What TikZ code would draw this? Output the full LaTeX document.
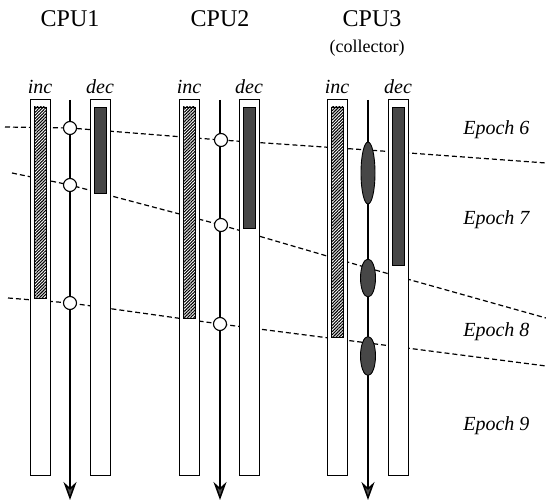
\documentclass[tikz,border=0pt]{standalone}
\usepackage{fontspec}
\setmainfont{Liberation Serif}
\usetikzlibrary{arrows.meta,positioning,patterns.meta,shapes.geometric}

\begin{document}
\begin{tikzpicture}[
        x=1pt, y=-1pt,
        title/.style={anchor=base, font=\fontsize{24}{28}\selectfont},
        sub/.style={anchor=base, font=\fontsize{18}{21}\selectfont},
        tag/.style={inner sep=0pt, font=\fontsize{20}{23}\selectfont\itshape},
        epoch/.style={anchor=base east, font=\fontsize{20}{23}\selectfont\itshape},
        frame/.style={draw, fill=white, line width=1pt, minimum width=20pt, minimum height=375pt, inner sep=0pt},
        incbar/.style={draw, line width=0.9pt, pattern={Lines[angle=45,distance=2.2pt,line width=1.1pt]}},
        decbar/.style={draw, line width=0.9pt, fill=black!72},
        boundary/.style={dash pattern=on 5pt off 3pt, line width=1.2pt},
        timeline/.style={line width=1.5pt, -{Stealth[length=18pt,width=13pt,fill=black!70]}},
        event/.style={draw, circle, fill=white, line width=1.1pt, minimum size=13pt, inner sep=0pt},
        merge/.style={draw, ellipse, fill=black!72, line width=0.9pt, inner sep=0pt}
    ]
        \useasboundingbox (0,0) rectangle (546,502);

        % Event points
        \coordinate (p11) at (70,128);
        \coordinate (p12) at (70,185);
        \coordinate (p13) at (70,303);
        \coordinate (p21) at (221,140);
        \coordinate (p22) at (221,225);
        \coordinate (p23) at (220,324);

        % Epoch boundaries
        \draw[boundary] (5,127) -- (p11) -- (p21) -- (368,150) -- (546,163);
        \draw[boundary] (12,173) -- (p12) -- (p22) -- (368,268) -- (546,318);
        \draw[boundary] (8,298) -- (p13) -- (p23) -- (368,343) -- (546,366);

        % Titles
        \node[title] (cpu1) at (70,27) {CPU1};
        \node[title] (cpu2) at (220,27) {CPU2};
        \node[title] (cpu3) at (372,27) {CPU3};
        \node[sub] (coll) at (367,53) {(collector)};

        % Counters
        \node[frame] (inc1) at (40,287.5) {};
        \node[frame] (dec1) at (100,287.5) {};
        \node[frame] (inc2) at (189,287.5) {};
        \node[frame] (dec2) at (249,287.5) {};
        \node[frame] (inc3) at (337,287.5) {};
        \node[frame] (dec3) at (398,287.5) {};

        \draw[incbar] (34,107) rectangle (46,298);
        \draw[decbar] (94,107) rectangle (106,193);
        \draw[incbar] (183,107) rectangle (195,318);
        \draw[decbar] (243,107) rectangle (255,228);
        \draw[incbar] (331,107) rectangle (343,337);
        \draw[decbar] (392,107) rectangle (404,265);

        \node[tag, above=6pt of inc1] {inc};
        \node[tag, above=6pt of dec1] {dec};
        \node[tag, above=6pt of inc2] {inc};
        \node[tag, above=6pt of dec2] {dec};
        \node[tag, above=6pt of inc3] {inc};
        \node[tag, above=6pt of dec3] {dec};

        % Time lines
        \coordinate (t1) at (70,100);
        \coordinate (b1) at (70,500);
        \coordinate (t2) at (220,100);
        \coordinate (b2) at (220,500);
        \coordinate (t3) at (368,100);
        \coordinate (b3) at (368,500);
        \draw[timeline] (t1) -- (b1);
        \draw[timeline] (t2) -- (b2);
        \draw[timeline] (t3) -- (b3);

        % Events
        \node[event] (e11) at (p11) {};
        \node[event] (e12) at (p12) {};
        \node[event] (e13) at (p13) {};
        \node[event] (e21) at (p21) {};
        \node[event] (e22) at (p22) {};
        \node[event] (e23) at (p23) {};
        \node[merge, minimum width=14pt, minimum height=62pt] (m1) at (368,173) {};
        \node[merge, minimum width=15pt, minimum height=38pt] (m2) at (368,278) {};
        \node[merge, minimum width=15pt, minimum height=39pt] (m3) at (368,356) {};

        % Epochs
        \node[epoch] (ep6) at (533,135) {Epoch 6};
        \node[epoch] (ep7) at (533,225) {Epoch 7};
        \node[epoch] (ep8) at (533,337) {Epoch 8};
        \node[epoch] (ep9) at (533,430) {Epoch 9};
    \end{tikzpicture}
\end{document}
